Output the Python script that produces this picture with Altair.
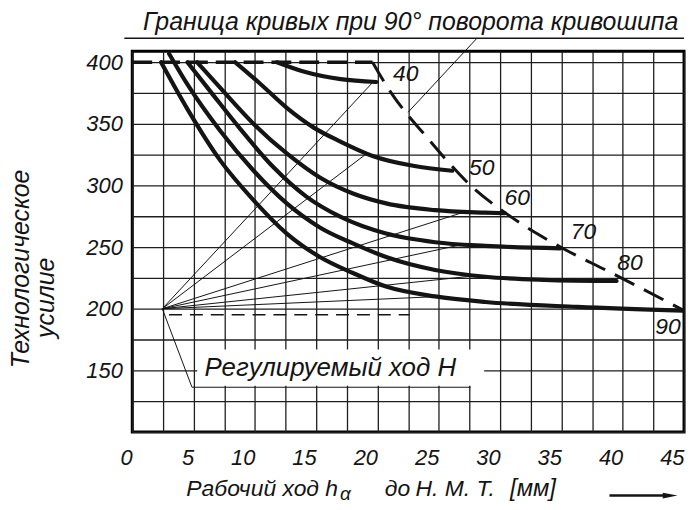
import altair as alt
import pandas as pd

# ---------------- data ----------------
curve_names = ["40", "50", "60", "70", "80", "90"]

c40_x = [11.8, 13.9, 17.0, 19.9]
c40_y = [400, 392.7, 386.3, 384.0]

c50_x = [8.4, 10.5, 12.6, 14.8, 16.9, 19.6, 22.9, 26.1]
c50_y = [400, 382, 363, 347, 336, 324, 316, 312]

c60_x = [5.3, 7.2, 9.9, 12.6, 15.3, 18.0, 20.7, 24.7, 28.8, 30.4]
c60_y = [400, 379, 350, 326, 306.5, 293.5, 285.5, 280, 278, 277.5]

c70_x = [4.5, 6.4, 8.8, 11.5, 14.2, 17.0, 20.7, 24.7, 28.8, 34.9]
c70_y = [400, 376, 346, 315, 291, 274.5, 261, 254, 251, 249]

c80_x = [3.0, 4.5, 7.2, 9.9, 12.6, 15.3, 18.0, 20.7, 24.7, 28.8, 33.6, 39.5]
c80_y = [407, 382, 344, 312, 285.5, 266, 253, 242, 231.5, 226, 223.5, 222.5]

c90_x = [2.35, 4.5, 7.2, 9.9, 12.6, 15.3, 18.0, 20.7, 24.7, 28.8, 36.3, 44.9]
c90_y = [400, 362, 320, 288, 261, 242, 229, 218, 210, 205.5, 201.5, 198.5]

# boundary of curves at 90 deg crank rotation (dashed)
bound_x = [19.6, 20.3, 21.2, 22.4, 23.7, 25.5, 27.7, 30.4, 33.0, 35.4, 38.7, 45.0]
bound_y = [400, 388, 374, 358, 343, 322, 299, 278, 261, 247.5, 231, 198.5]

# limit line at 400
limit_x = [0.0, 19.6]
limit_y = [400, 400]

# curve labels
label_x = [22.3, 28.5, 31.4, 36.8, 40.6, 43.7]
label_y = [390.3, 314.5, 289.5, 262, 237, 185.5]

# fan of thin lines from the adjustable-stroke point
fan_origin = (2.45, 200)
fan_x2 = [19.7, 19.1, 27.0, 27.1, 28.0, 25.2]
fan_y2 = [384.7, 325.8, 278.3, 252.5, 226.8, 210.0]

# dashed line slightly below 200
dash200_x = [3.0, 22.6]
dash200_y = [195.2, 195.2]

# leader for "Регулируемый ход H"
leaderH_x = [2.45, 4.87, 27.6]
leaderH_y = [200, 136.3, 136.3]
boxH = dict(x=5.3, x2=28.7, y=137.5, y2=167)
labelH = dict(x=5.9, y=151.5, t="Регулируемый ход H")

# leader from the boundary to the title underline
leaderT = dict(x=22.5, y=359.5, x2=28.1, y2=419.4)

x_ticks = [i * 2.5 for i in range(19)]
y_ticks = list(range(100, 401, 25))

FONT = "Liberation Sans"
INK = "#141414"

# ---------------- tables ----------------
curves = []
for name, xs, ys in zip(curve_names,
                        [c40_x, c50_x, c60_x, c70_x, c80_x, c90_x],
                        [c40_y, c50_y, c60_y, c70_y, c80_y, c90_y]):
    for i, (a, b) in enumerate(zip(xs, ys)):
        curves.append({"curve": name, "x": a, "y": b, "o": i})
curves = pd.DataFrame(curves)

bound = pd.DataFrame({"x": bound_x, "y": bound_y, "o": range(len(bound_x))})
limit = pd.DataFrame({"x": [limit_x[0]], "x2": [limit_x[1]], "y": [limit_y[0]]})
labels = pd.DataFrame({"x": label_x, "y": label_y, "t": curve_names})
fan = pd.DataFrame({"x": [fan_origin[0]] * len(fan_x2), "y": [fan_origin[1]] * len(fan_x2),
                    "x2": fan_x2, "y2": fan_y2})
dash200 = pd.DataFrame({"x": [dash200_x[0]], "x2": [dash200_x[1]], "y": [dash200_y[0]]})
leaderH = pd.DataFrame({"x": leaderH_x, "y": leaderH_y, "o": range(3)})
box = pd.DataFrame([boxH])
labH = pd.DataFrame([labelH])
leadT = pd.DataFrame([leaderT])

X_SCALE = alt.Scale(domain=[0, 45], nice=False, zero=False)
Y_SCALE = alt.Scale(domain=[100, 409], nice=False, zero=False)

x_axis = alt.Axis(values=x_ticks,
                  labelExpr="datum.value % 5 === 0 ? format(datum.value, 'd') : ''",
                  title=None, grid=True, ticks=False, domain=False,
                  labelFont=FONT, labelFontSize=22, labelFontStyle="italic",
                  labelColor=INK, labelAlign="right", labelOffset=0, labelPadding=16,
                  labelOverlap=False, labelFlush=False,
                  gridColor="#1e1e1e", gridWidth=1.3)
y_axis = alt.Axis(values=y_ticks,
                  labelExpr="(datum.value % 50 === 0 && datum.value > 100) ? format(datum.value, 'd') : ''",
                  title=None, grid=True, ticks=False, domain=False,
                  labelFont=FONT, labelFontSize=22, labelFontStyle="italic",
                  labelColor=INK, labelPadding=10, labelOverlap=False, labelFlush=False,
                  gridColor="#1e1e1e", gridWidth=1.3)


def X(f="x"):
    return alt.X(f"{f}:Q", scale=X_SCALE, axis=x_axis)


def Y(f="y"):
    return alt.Y(f"{f}:Q", scale=Y_SCALE, axis=y_axis)


box_layer = alt.Chart(box).mark_rect(color="white").encode(
    x=X(), x2="x2:Q", y=Y(), y2="y2:Q")

fan_layer = alt.Chart(fan).mark_rule(color=INK, strokeWidth=1).encode(
    x=X(), y=Y(), x2="x2:Q", y2="y2:Q")

dash200_layer = alt.Chart(dash200).mark_rule(color=INK, strokeWidth=1.5, strokeDash=[13, 8]).encode(
    x=X(), x2="x2:Q", y=Y())

leaderH_layer = alt.Chart(leaderH).mark_line(color=INK, strokeWidth=1).encode(
    x=X(), y=Y(), order="o:Q")

labH_layer = alt.Chart(labH).mark_text(font=FONT, fontSize=26, fontStyle="italic", align="left",
                                        baseline="middle", color=INK).encode(
    x=X(), y=Y(), text="t:N")

leadT_layer = alt.Chart(leadT).mark_rule(color=INK, strokeWidth=1).encode(
    x=X(), y=Y(), x2="x2:Q", y2="y2:Q")

limit_layer = alt.Chart(limit).mark_rule(color=INK, strokeWidth=3.5, strokeDash=[20, 8]).encode(
    x=X(), x2="x2:Q", y=Y())

bound_layer = alt.Chart(bound).mark_line(color=INK, strokeWidth=3, strokeDash=[22, 11],
                                         interpolate="monotone").encode(
    x=X(), y=Y(), order="o:Q")

curve_layer = alt.Chart(curves).mark_line(color=INK, strokeWidth=4.2, interpolate="monotone",
                                          strokeCap="round").encode(
    x=X(), y=Y(), detail="curve:N", order="o:Q")

label_layer = alt.Chart(labels).mark_text(font=FONT, fontSize=23, fontStyle="italic", color=INK,
                                          align="center", baseline="middle").encode(
    x=X(), y=Y(), text="t:N")

# titles / annotations (pixel positions relative to plot area)
one = pd.DataFrame({"k": [0]})


def note(text, x, y, size, align="left", angle=0):
    kw = dict(text=text, font=FONT, fontSize=size, fontStyle="italic", color=INK,
              align=align, baseline="middle")
    if angle:
        kw["angle"] = angle
    return alt.Chart(one).mark_text(**kw).encode(x=alt.value(x), y=alt.value(y))


top_title = note("Граница кривых при 90° поворота кривошипа", 280, -29, 25, "center")

underline = alt.Chart(one).mark_rule(color=INK, strokeWidth=1.4).encode(
    x=alt.value(-8), x2=alt.value(555), y=alt.value(-13))

ytitle1 = note("Технологическое", -112, 219, 25, "center", 270)
ytitle2 = note("усилие", -87, 248, 25, "center", 270)

xt1 = note("Рабочий ход h", 207, 440, 23, "right")
xt2 = note("α", 209, 445, 19, "left")
xt3 = note("до", 254, 440, 23, "left")
xt4 = note("Н. М. Т.", 285, 440, 23, "left")
xt5 = note("[мм]", 380, 440, 24, "left")

arrow_shaft = alt.Chart(one).mark_rule(color=INK, strokeWidth=2.5).encode(
    x=alt.value(480), x2=alt.value(537), y=alt.value(447))
arrow_head = alt.Chart(one).mark_point(
    shape="M -1 -0.38 L 1 0 L -1 0.38 Z", filled=True, color=INK, size=220, opacity=1).encode(
    x=alt.value(541), y=alt.value(447))

chart = alt.layer(
    box_layer, fan_layer, dash200_layer, leaderH_layer, leadT_layer,
    limit_layer, bound_layer, curve_layer, label_layer, labH_layer,
    top_title, underline, ytitle1, ytitle2, xt1, xt2, xt3, xt4, xt5,
    arrow_shaft, arrow_head
).properties(
    width=555, height=383,
    autosize=alt.AutoSizeParams(type="none"),
    padding={"left": 125, "top": 42, "right": 4, "bottom": 74},
    background="white",
).configure_view(stroke="black", strokeWidth=3)

chart.save("out.html", embed_options={"renderer": "svg", "actions": False})
